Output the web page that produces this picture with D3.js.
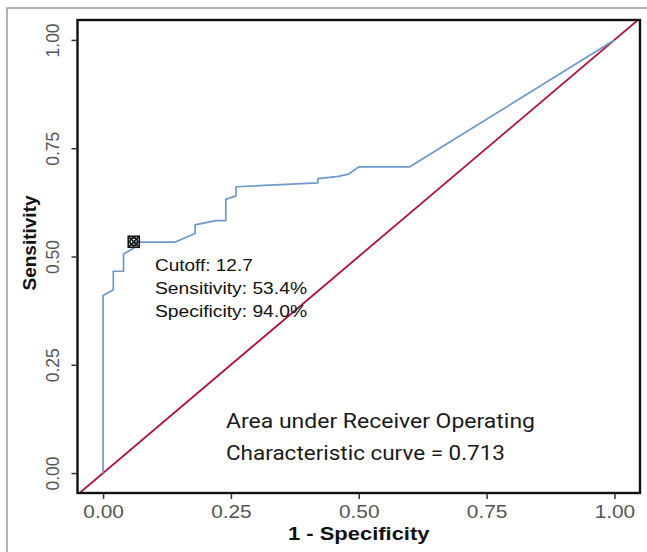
<!DOCTYPE html>
<html>
  <head>
    <meta charset="utf-8">
    <title>ROC curve</title>
    <script src="https://d3js.org/d3.v7.min.js"></script>
    <style>
      body { margin: 0; background: #fff; }
      text { font-family: "Liberation Sans", Arial, sans-serif; }
    </style>
  </head>
  <body>
    <div id="chart"></div>
    <script>
      // ROC curve points (1 - specificity, sensitivity)
      var fpr = [0, 0, 0.02, 0.02, 0.04, 0.04, 0.06, 0.06, 0.14, 0.18, 0.18, 0.22, 0.24,
                 0.24, 0.26, 0.26, 0.42, 0.42, 0.46, 0.48, 0.50, 0.60, 1.0];
      var tpr = [0, 0.41, 0.423, 0.466, 0.466, 0.506, 0.519, 0.533, 0.533, 0.553, 0.573, 0.583, 0.583,
                 0.632, 0.64, 0.661, 0.67, 0.68, 0.685, 0.69, 0.707, 0.707, 1.0];
      var cutoff = {fpr: 0.06, tpr: 0.534};
      var cutoffLines = ["Cutoff: 12.7", "Sensitivity: 53.4%", "Specificity: 94.0%"];
      var aucLines = ["Area under Receiver Operating", "Characteristic curve = 0.713"];
      var tickValues = [0, 0.25, 0.5, 0.75, 1];

      var width = 647, height = 552;
      var pLeft = 77.5, pRight = 640, pTop = 20, pBottom = 493;

      var svg = d3.select("#chart").append("svg")
          .attr("width", width).attr("height", height);

      // outer grey frame of the figure
      svg.append("rect")
          .attr("x", 7).attr("y", 8)
          .attr("width", 700).attr("height", 600)
          .attr("fill", "none").attr("stroke", "#9a9a9a").attr("stroke-width", 1.5);

      var x = d3.scaleLinear().domain([-0.05, 1.05]).range([pLeft, pRight]);
      var y = d3.scaleLinear().domain([-0.046, 1.046]).range([pBottom, pTop]);

      svg.append("clipPath").attr("id", "panel")
        .append("rect")
          .attr("x", pLeft).attr("y", pTop)
          .attr("width", pRight - pLeft).attr("height", pBottom - pTop);

      var plot = svg.append("g").attr("clip-path", "url(#panel)");

      // reference diagonal
      plot.append("line")
          .attr("x1", x(-0.06)).attr("y1", y(-0.06))
          .attr("x2", x(1.06)).attr("y2", y(1.06))
          .attr("stroke", "#b0103d").attr("stroke-width", 1.8);

      // ROC curve
      var line = d3.line()
          .x(function (d) { return x(d[0]); })
          .y(function (d) { return y(d[1]); });

      plot.append("path")
          .datum(d3.zip(fpr, tpr))
          .attr("d", line)
          .attr("fill", "none")
          .attr("stroke", "#6c98cb")
          .attr("stroke-width", 1.7)
          .attr("stroke-linejoin", "round");

      // cutoff marker (square with cross and circle)
      var mx = x(cutoff.fpr), my = y(cutoff.tpr), r = 5.5;
      var mk = svg.append("g").attr("stroke", "#111").attr("fill", "none").attr("stroke-width", 1.6);
      mk.append("rect").attr("x", mx - r).attr("y", my - r).attr("width", 2 * r).attr("height", 2 * r);
      mk.append("path").attr("d", "M" + (mx - r) + "," + (my - r) + "L" + (mx + r) + "," + (my + r) +
                                 "M" + (mx - r) + "," + (my + r) + "L" + (mx + r) + "," + (my - r));
      mk.append("circle").attr("cx", mx).attr("cy", my).attr("r", r * 0.7);

      // panel border
      svg.append("rect")
          .attr("x", pLeft).attr("y", pTop)
          .attr("width", pRight - pLeft).attr("height", pBottom - pTop)
          .attr("fill", "none").attr("stroke", "#111").attr("stroke-width", 2.4);

      // axes
      var fmt = d3.format(".2f");
      var xAxis = svg.append("g")
          .attr("transform", "translate(0," + (pBottom + 1) + ")")
          .call(d3.axisBottom(x).tickValues(tickValues).tickFormat(fmt).tickSize(5));
      var yAxis = svg.append("g")
          .attr("transform", "translate(" + (pLeft - 1) + ",0)")
          .call(d3.axisLeft(y).tickValues(tickValues).tickFormat(fmt).tickSize(5));

      [xAxis, yAxis].forEach(function (a) {
        a.select(".domain").remove();
        a.selectAll(".tick line").attr("stroke", "#333").attr("stroke-width", 1.5);
        a.selectAll(".tick text")
            .attr("fill", "#555")
            .style("font-size", "17.5px")
            .style("font-family", "'Liberation Sans', Arial, sans-serif");
      });

      xAxis.selectAll(".tick text")
          .attr("y", 0).attr("dy", 0)
          .attr("transform", "translate(0,24) scale(1.19,1)");

      yAxis.selectAll(".tick text")
          .attr("x", 0).attr("dy", 0)
          .attr("text-anchor", "middle")
          .attr("transform", "translate(-18,0) rotate(-90)");

      // axis titles
      svg.append("text")
          .attr("transform", "translate(" + x(0.5) + ",540) scale(1.22,1)")
          .attr("text-anchor", "middle")
          .style("font-size", "18px").style("font-weight", "bold")
          .attr("fill", "#111")
          .text("1 - Specificity");

      svg.append("text")
          .attr("transform", "translate(36," + 243 + ") rotate(-90)")
          .attr("text-anchor", "middle")
          .style("font-size", "19px").style("font-weight", "bold")
          .attr("fill", "#111")
          .text("Sensitivity");

      // cutoff annotation
      var cutW = [97.7, 152, 152];
      svg.selectAll("text.cut")
          .data(cutoffLines)
          .enter().append("text")
          .attr("class", "cut")
          .attr("x", 155)
          .attr("y", function (d, i) { return 270.7 + i * 23; })
          .attr("textLength", function (d, i) { return cutW[i]; })
          .attr("lengthAdjust", "spacingAndGlyphs")
          .style("font-size", "16px")
          .attr("fill", "#111")
          .text(function (d) { return d; });

      // AUC annotation
      var aucW = [309, 279];
      svg.selectAll("text.auc")
          .data(aucLines)
          .enter().append("text")
          .attr("class", "auc")
          .attr("x", 226)
          .attr("y", function (d, i) { return 428.3 + i * 31.7; })
          .attr("textLength", function (d, i) { return aucW[i]; })
          .attr("lengthAdjust", "spacingAndGlyphs")
          .style("font-family", "Roboto, 'Open Sans', sans-serif")
          .style("font-size", "21px")
          .attr("fill", "#1a1a1a")
          .text(function (d) { return d; });
    </script>
  </body>
</html>
